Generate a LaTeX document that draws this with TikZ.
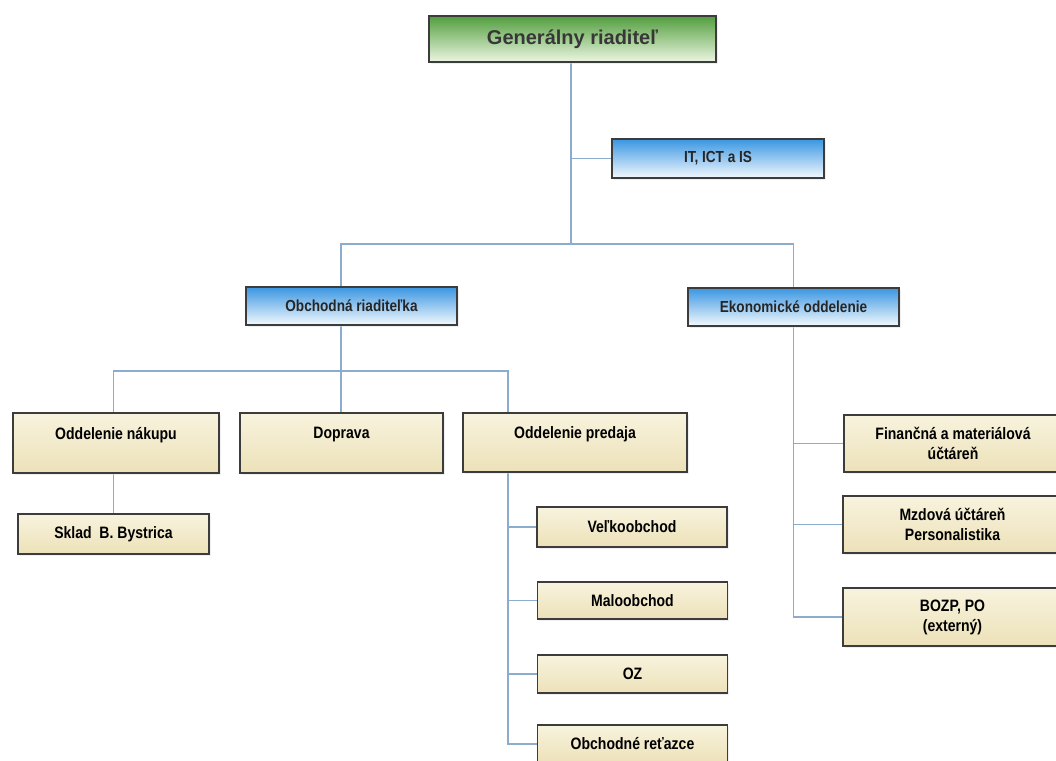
\documentclass[tikz,border=0pt]{standalone}
\usepackage{fontspec}
\setmainfont{Liberation Sans}
\newfontfamily\narfont[FakeStretch=0.85]{Liberation Sans}
\usetikzlibrary{shadows,backgrounds}
\definecolor{bordc}{RGB}{60,60,60}
\definecolor{connc}{RGB}{140,172,205}
\definecolor{greentop}{RGB}{82,158,62}
\definecolor{greenbot}{RGB}{236,246,226}
\definecolor{bluetop}{RGB}{58,150,226}
\definecolor{bluebot}{RGB}{244,249,253}
\definecolor{beigetop}{RGB}{248,243,222}
\definecolor{beigebot}{RGB}{236,225,184}
\definecolor{gentext}{RGB}{55,55,55}
\begin{document}
\begin{tikzpicture}[x=1pt,y=-1pt,
  box/.style={draw=bordc, line width=1.6pt, rectangle, inner sep=0pt, align=center,
    drop shadow={shadow xshift=1.5pt, shadow yshift=-1.5pt, fill=black!12}},
  greenbox/.style={box, top color=greentop, bottom color=greenbot,
    font=\bfseries\fontsize{20}{24}\selectfont, text=gentext},
  bluebox/.style={box, top color=bluetop, bottom color=bluebot,
    font=\narfont\bfseries\fontsize{16}{20}\selectfont, text=black!85},
  beigebox/.style={box, top color=beigetop, bottom color=beigebot,
    font=\narfont\bfseries\fontsize{16.5}{20}\selectfont, text=black},
  conn/.style={draw=connc, line width=1.6pt}]
\useasboundingbox (0,0) rectangle (1056,760);

% junction coordinates
\coordinate (j1) at (571,244);
\coordinate (j2) at (341,371);
\coordinate (j3) at (508,744);

% boxes
\node[greenbox, minimum width=287pt, minimum height=46pt] (gen) at (572.5,39) {Generálny riaditeľ};
\node[bluebox, minimum width=212pt, minimum height=39pt] (it) at (718,158.5) {IT, ICT a IS};
\node[bluebox, minimum width=211pt, minimum height=38pt] (obch) at (351.5,306) {Obchodná riaditeľka};
\node[bluebox, minimum width=211pt, minimum height=38pt] (ekon) at (793.5,307) {Ekonomické oddelenie};

\node[beigebox, minimum width=206pt, minimum height=60pt] (nak) at (116,443) {Oddelenie nákupu\\\mbox{}};
\node[beigebox, minimum width=203pt, minimum height=60pt] (dop) at (341.5,443) {Doprava\\\mbox{}};
\node[beigebox, minimum width=224pt, minimum height=59pt] (pred) at (575,442.5) {Oddelenie predaja\\\mbox{}};

\node[beigebox, minimum width=191pt, minimum height=40pt] (sklad) at (113.5,534) {Sklad\ \ B. Bystrica};

\node[beigebox, minimum width=190pt, minimum height=40pt] (velk) at (632,527) {Veľkoobchod};
\node[beigebox, minimum width=190pt, minimum height=37pt] (malo) at (632.5,600.5) {Maloobchod};
\node[beigebox, minimum width=190pt, minimum height=38pt] (oz) at (632.5,674) {OZ};
\node[beigebox, minimum width=190pt, minimum height=38pt] (ret) at (632.5,744) {Obchodné reťazce};

\node[beigebox, minimum width=218pt, minimum height=57pt] (fin) at (953,443.5) {Finančná a materiálová\\účtáreň};
\node[beigebox, minimum width=219pt, minimum height=57pt] (mzd) at (952.5,524.5) {Mzdová účtáreň\\Personalistika};
\node[beigebox, minimum width=219pt, minimum height=58pt] (bozp) at (952.5,617) {BOZP, PO\\(externý)};

% connectors
\begin{pgfonlayer}{background}
\fill[white] (0,0) rectangle (1056,760);
\draw[conn] (gen.south -| j1) -- (j1);
\draw[conn] (j1 |- it.west) -- (it.west);
\draw[conn] (obch.north -| j2) |- (j1) -| (ekon.north);
\draw[conn] (obch.south -| j2) -- (j2);
\draw[conn] (sklad.north |- nak.north) |- (j2) -| (pred.north -| j3);
\draw[conn] (dop.north -| j2) -- (j2);
\draw[conn] (sklad.north |- nak.south) -- (sklad.north);
\draw[conn] (pred.south -| j3) |- (ret.west);
\draw[conn] (velk.west -| j3) -- (velk.west);
\draw[conn] (malo.west -| j3) -- (malo.west);
\draw[conn] (oz.west -| j3) -- (oz.west);
\draw[conn] (ekon.south) |- (bozp.west);
\draw[conn] (fin.west -| ekon.south) -- (fin.west);
\draw[conn] (mzd.west -| ekon.south) -- (mzd.west);
\end{pgfonlayer}
\end{tikzpicture}
\end{document}
